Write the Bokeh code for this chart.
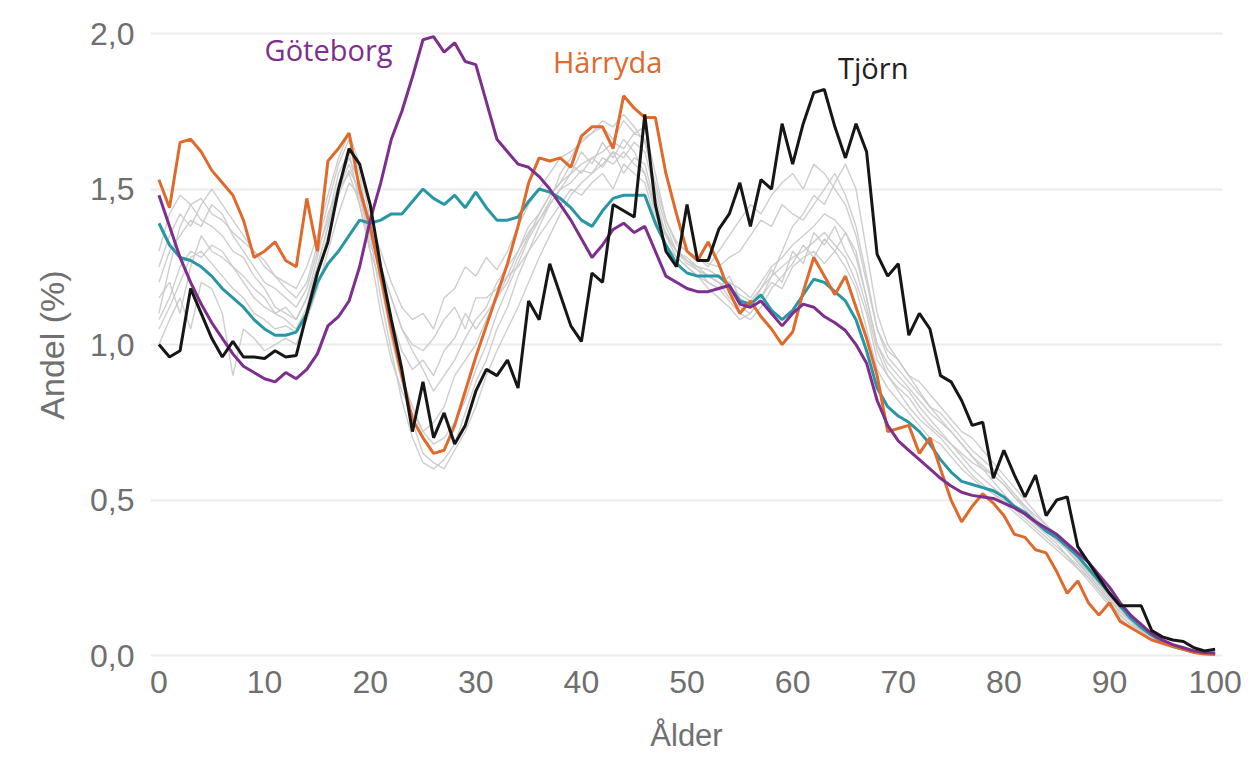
from bokeh.plotting import figure
from bokeh.models import Range1d, FixedTicker, CustomJSTickFormatter, Label
from bokeh.embed import file_html
from bokeh.resources import INLINE

ages = list(range(0, 101))

goteborg = [1.48, 1.38, 1.28, 1.20, 1.13, 1.07, 1.02, 0.97, 0.93, 0.91,
            0.89, 0.88, 0.91, 0.89, 0.92, 0.97, 1.06, 1.09, 1.14, 1.25,
            1.40, 1.52, 1.66, 1.75, 1.86, 1.98, 1.99, 1.94, 1.97, 1.91,
            1.90, 1.78, 1.66, 1.62, 1.58, 1.57, 1.54, 1.50, 1.45, 1.40,
            1.34, 1.28, 1.32, 1.37, 1.39, 1.36, 1.38, 1.30, 1.22, 1.20,
            1.18, 1.17, 1.17, 1.18, 1.19, 1.13, 1.12, 1.14, 1.10, 1.06,
            1.10, 1.13, 1.12, 1.09, 1.07, 1.045, 1.00, 0.94, 0.82, 0.74,
            0.69, 0.66, 0.63, 0.60, 0.57, 0.545, 0.525, 0.515, 0.51, 0.505,
            0.49, 0.475, 0.455, 0.43, 0.41, 0.39, 0.36, 0.33, 0.30, 0.26,
            0.22, 0.17, 0.13, 0.10, 0.07, 0.05, 0.035, 0.025, 0.015, 0.01,
            0.008]

harryda = [1.53, 1.44, 1.65, 1.66, 1.62, 1.56, 1.52, 1.48, 1.40, 1.28,
           1.30, 1.33, 1.27, 1.25, 1.47, 1.30, 1.59, 1.63, 1.68, 1.50,
           1.38, 1.22, 1.05, 0.90, 0.76, 0.70, 0.65, 0.66, 0.74, 0.85,
           0.96, 1.06, 1.16, 1.26, 1.38, 1.52, 1.60, 1.59, 1.60, 1.57,
           1.67, 1.70, 1.70, 1.63, 1.80, 1.76, 1.73, 1.73, 1.55, 1.42,
           1.30, 1.27, 1.33, 1.26, 1.17, 1.10, 1.14, 1.09, 1.05, 1.00,
           1.04, 1.17, 1.28, 1.22, 1.16, 1.22, 1.12, 1.02, 0.90, 0.72,
           0.73, 0.74, 0.65, 0.70, 0.60, 0.50, 0.43, 0.48, 0.52, 0.49,
           0.45, 0.39, 0.38, 0.34, 0.33, 0.27, 0.20, 0.24, 0.17, 0.13,
           0.17, 0.11, 0.09, 0.07, 0.05, 0.04, 0.03, 0.02, 0.01, 0.005,
           0.003]

tjorn = [1.00, 0.96, 0.98, 1.18, 1.10, 1.02, 0.96, 1.01, 0.96, 0.96,
         0.955, 0.98, 0.96, 0.965, 1.10, 1.23, 1.33, 1.50, 1.63, 1.58,
         1.45, 1.25, 1.08, 0.92, 0.72, 0.88, 0.70, 0.78, 0.68, 0.74,
         0.85, 0.92, 0.90, 0.95, 0.86, 1.14, 1.08, 1.26, 1.16, 1.06,
         1.01, 1.23, 1.20, 1.45, 1.43, 1.41, 1.74, 1.45, 1.30, 1.25,
         1.45, 1.27, 1.27, 1.37, 1.42, 1.52, 1.38, 1.53, 1.50, 1.71,
         1.58, 1.71, 1.81, 1.82, 1.70, 1.60, 1.71, 1.62, 1.29, 1.22,
         1.26, 1.03, 1.10, 1.05, 0.90, 0.88, 0.82, 0.74, 0.75, 0.57,
         0.66, 0.58, 0.51, 0.58, 0.45, 0.50, 0.51, 0.35, 0.30, 0.25,
         0.20, 0.16, 0.16, 0.16, 0.08, 0.06, 0.05, 0.045, 0.025, 0.015,
         0.02]

region = [1.39, 1.32, 1.28, 1.27, 1.25, 1.22, 1.18, 1.15, 1.12, 1.08,
          1.05, 1.03, 1.03, 1.04, 1.10, 1.20, 1.26, 1.30, 1.35, 1.40,
          1.39, 1.40, 1.42, 1.42, 1.46, 1.50, 1.47, 1.45, 1.48, 1.44,
          1.49, 1.44, 1.40, 1.40, 1.41, 1.46, 1.50, 1.49, 1.47, 1.44,
          1.40, 1.38, 1.43, 1.47, 1.48, 1.48, 1.48, 1.39, 1.32, 1.26,
          1.23, 1.22, 1.22, 1.22, 1.19, 1.14, 1.13, 1.16, 1.11, 1.08,
          1.11, 1.16, 1.21, 1.20, 1.17, 1.14, 1.08, 0.98, 0.86, 0.80,
          0.77, 0.75, 0.72, 0.68, 0.63, 0.59, 0.56, 0.55, 0.54, 0.53,
          0.51, 0.48, 0.46, 0.43, 0.40, 0.38, 0.35, 0.32, 0.28, 0.24,
          0.20, 0.16, 0.12, 0.09, 0.065, 0.045, 0.03, 0.02, 0.012, 0.008,
          0.005]

gray_1 = [1.10, 1.25, 1.38, 1.45, 1.47, 1.42, 1.40, 1.36, 1.33, 1.30, 1.27,
          1.22, 1.18, 1.15, 1.20, 1.32, 1.45, 1.58, 1.66, 1.55, 1.35,
          1.15, 0.98, 0.82, 0.70, 0.62, 0.60, 0.63, 0.68, 0.78, 0.88,
          0.95, 1.05, 1.12, 1.22, 1.30, 1.38, 1.45, 1.50, 1.55, 1.58,
          1.60, 1.62, 1.65, 1.63, 1.68, 1.66, 1.50, 1.38, 1.30, 1.27,
          1.25, 1.24, 1.22, 1.20, 1.18, 1.15, 1.20, 1.25, 1.28, 1.32,
          1.35, 1.38, 1.42, 1.40, 1.36, 1.30, 1.15, 1.00, 0.92, 0.88,
          0.85, 0.80, 0.76, 0.72, 0.68, 0.65, 0.62, 0.60, 0.56, 0.52,
          0.48, 0.45, 0.42, 0.40, 0.37, 0.34, 0.30, 0.27, 0.23, 0.19,
          0.15, 0.12, 0.09, 0.07, 0.05, 0.035, 0.025, 0.015, 0.01, 0.005]

gray_2 = [1.05, 1.12, 1.20, 1.28, 1.30, 1.26, 1.22, 1.18, 1.15, 1.10, 1.08,
          1.05, 1.06, 1.04, 1.10, 1.22, 1.35, 1.48, 1.56, 1.50, 1.40,
          1.30, 1.20, 1.12, 1.08, 1.10, 1.05, 1.15, 1.18, 1.25, 1.22,
          1.28, 1.24, 1.30, 1.38, 1.45, 1.50, 1.55, 1.60, 1.62, 1.65,
          1.68, 1.70, 1.66, 1.72, 1.68, 1.70, 1.55, 1.40, 1.32, 1.30,
          1.28, 1.25, 1.30, 1.35, 1.40, 1.45, 1.42, 1.48, 1.52, 1.55,
          1.50, 1.58, 1.55, 1.50, 1.45, 1.35, 1.20, 1.05, 0.98, 0.95,
          0.90, 0.88, 0.84, 0.80, 0.76, 0.72, 0.70, 0.66, 0.62, 0.58,
          0.54, 0.50, 0.46, 0.42, 0.38, 0.34, 0.30, 0.26, 0.22, 0.18,
          0.14, 0.11, 0.08, 0.06, 0.04, 0.03, 0.02, 0.012, 0.008, 0.004]

gray_3 = [1.20, 1.30, 1.35, 1.40, 1.38, 1.45, 1.42, 1.35, 1.30, 1.25, 1.20,
          1.18, 1.15, 1.12, 1.18, 1.30, 1.40, 1.55, 1.62, 1.45, 1.30,
          1.10, 0.95, 0.85, 0.78, 0.72, 0.75, 0.80, 0.90, 0.95, 1.00,
          1.08, 1.15, 1.20, 1.28, 1.35, 1.42, 1.48, 1.52, 1.55, 1.62,
          1.58, 1.65, 1.60, 1.66, 1.62, 1.55, 1.42, 1.32, 1.28, 1.25,
          1.22, 1.20, 1.18, 1.22, 1.15, 1.12, 1.18, 1.22, 1.25, 1.28,
          1.30, 1.33, 1.36, 1.32, 1.28, 1.20, 1.10, 0.95, 0.90, 0.85,
          0.80, 0.76, 0.73, 0.70, 0.66, 0.62, 0.58, 0.55, 0.52, 0.50,
          0.47, 0.44, 0.41, 0.38, 0.35, 0.32, 0.29, 0.25, 0.21, 0.17,
          0.13, 0.10, 0.08, 0.06, 0.04, 0.03, 0.02, 0.012, 0.008, 0.02]

gray_4 = [1.30, 1.42, 1.48, 1.45, 1.40, 1.38, 1.35, 1.30, 1.28, 1.22, 1.18,
          1.12, 1.10, 1.08, 1.15, 1.28, 1.42, 1.50, 1.58, 1.48, 1.32,
          1.25, 1.15, 1.05, 1.00, 0.98, 1.02, 1.08, 1.12, 1.05, 1.15,
          1.15, 1.18, 1.22, 1.25, 1.30, 1.35, 1.40, 1.45, 1.50, 1.48,
          1.52, 1.55, 1.50, 1.58, 1.55, 1.52, 1.40, 1.35, 1.30, 1.28,
          1.25, 1.22, 1.20, 1.15, 1.12, 1.10, 1.15, 1.20, 1.18, 1.25,
          1.28, 1.30, 1.26, 1.30, 1.25, 1.18, 1.05, 0.92, 0.86, 0.82,
          0.78, 0.74, 0.70, 0.68, 0.64, 0.60, 0.57, 0.54, 0.52, 0.49,
          0.46, 0.43, 0.40, 0.37, 0.34, 0.31, 0.28, 0.24, 0.20, 0.16,
          0.12, 0.09, 0.07, 0.05, 0.035, 0.025, 0.018, 0.01, 0.006, 0.003]

gray_5 = [1.15, 1.20, 1.10, 1.25, 1.35, 1.30, 1.28, 1.25, 1.20, 1.15, 1.12,
          1.10, 1.08, 1.05, 1.12, 1.25, 1.38, 1.52, 1.60, 1.52, 1.38,
          1.20, 1.02, 0.88, 0.75, 0.65, 0.62, 0.60, 0.66, 0.72, 0.80,
          0.90, 0.98, 1.05, 1.12, 1.20, 1.28, 1.35, 1.42, 1.48, 1.52,
          1.55, 1.58, 1.62, 1.60, 1.65, 1.62, 1.48, 1.35, 1.28, 1.25,
          1.22, 1.18, 1.15, 1.12, 1.08, 1.10, 1.15, 1.22, 1.30, 1.38,
          1.42, 1.48, 1.45, 1.52, 1.58, 1.50, 1.30, 1.10, 1.00, 0.95,
          0.90, 0.85, 0.80, 0.78, 0.74, 0.70, 0.66, 0.63, 0.60, 0.56,
          0.52, 0.48, 0.44, 0.41, 0.38, 0.35, 0.31, 0.27, 0.23, 0.19,
          0.15, 0.12, 0.09, 0.07, 0.05, 0.035, 0.025, 0.015, 0.01, 0.005]

gray_6 = [1.00, 1.08, 1.15, 1.05, 1.20, 1.18, 1.10, 0.90, 1.05, 1.02, 0.98,
          1.00, 1.02, 1.00, 1.08, 1.18, 1.30, 1.42, 1.52, 1.48, 1.35,
          1.25, 1.15, 1.05, 0.98, 0.92, 0.85, 0.90, 0.95, 1.02, 1.08,
          1.12, 1.20, 1.25, 1.30, 1.38, 1.42, 1.48, 1.52, 1.58, 1.55,
          1.60, 1.57, 1.62, 1.55, 1.60, 1.58, 1.45, 1.35, 1.30, 1.26,
          1.24, 1.20, 1.18, 1.14, 1.10, 1.08, 1.12, 1.18, 1.22, 1.26,
          1.32, 1.28, 1.34, 1.30, 1.36, 1.28, 1.15, 1.00, 0.94, 0.90,
          0.86, 0.82, 0.78, 0.75, 0.72, 0.68, 0.64, 0.60, 0.58, 0.55,
          0.51, 0.47, 0.43, 0.40, 0.37, 0.34, 0.30, 0.26, 0.22, 0.18,
          0.14, 0.11, 0.08, 0.06, 0.045, 0.03, 0.02, 0.012, 0.007, 0.004]

gray_7 = [1.25, 1.35, 1.42, 1.38, 1.45, 1.50, 1.45, 1.40, 1.35, 1.30, 1.25,
          1.22, 1.20, 1.18, 1.25, 1.35, 1.48, 1.60, 1.68, 1.58, 1.40,
          1.22, 1.05, 0.90, 0.80, 0.72, 0.68, 0.70, 0.75, 0.82, 0.92,
          1.00, 1.10, 1.18, 1.26, 1.34, 1.40, 1.46, 1.55, 1.60, 1.66,
          1.68, 1.72, 1.70, 1.74, 1.70, 1.65, 1.52, 1.40, 1.33, 1.30,
          1.28, 1.26, 1.25, 1.28, 1.30, 1.35, 1.40, 1.38, 1.45, 1.42,
          1.40, 1.45, 1.50, 1.55, 1.48, 1.38, 1.22, 1.05, 0.96, 0.92,
          0.88, 0.84, 0.80, 0.76, 0.72, 0.68, 0.64, 0.61, 0.58, 0.55,
          0.51, 0.48, 0.45, 0.42, 0.39, 0.35, 0.31, 0.27, 0.23, 0.19,
          0.15, 0.11, 0.08, 0.06, 0.04, 0.03, 0.02, 0.01, 0.006, 0.003]

gray_8 = [1.08, 1.15, 1.25, 1.30, 1.28, 1.32, 1.30, 1.25, 1.22, 1.18, 1.15,
          1.10, 1.12, 1.08, 1.15, 1.25, 1.38, 1.50, 1.55, 1.45, 1.30,
          1.20, 1.08, 0.98, 0.92, 0.95, 0.90, 0.98, 1.02, 1.10, 1.05,
          1.10, 1.15, 1.22, 1.30, 1.36, 1.40, 1.45, 1.50, 1.52, 1.56,
          1.55, 1.60, 1.58, 1.62, 1.58, 1.55, 1.44, 1.36, 1.30, 1.27,
          1.24, 1.22, 1.20, 1.18, 1.16, 1.14, 1.18, 1.24, 1.20, 1.30,
          1.26, 1.36, 1.32, 1.38, 1.30, 1.24, 1.12, 0.98, 0.90, 0.86,
          0.83, 0.78, 0.74, 0.71, 0.68, 0.64, 0.60, 0.57, 0.54, 0.51,
          0.48, 0.45, 0.42, 0.39, 0.36, 0.32, 0.28, 0.25, 0.21, 0.17,
          0.13, 0.10, 0.08, 0.06, 0.04, 0.03, 0.02, 0.012, 0.008, 0.004]

gray_series = [gray_1, gray_2, gray_3, gray_4, gray_5, gray_6, gray_7, gray_8]

y_ticks = [0.0, 0.5, 1.0, 1.5, 2.0]
x_ticks = [0, 10, 20, 30, 40, 50, 60, 70, 80, 90, 100]

C_GBG = "#7e2f8e"
C_HAR = "#e06a2c"
C_TJO = "#161616"
C_REG = "#2796a5"
C_GRAY = "#c9c9c9"

p = figure(width=1242, height=755, output_backend="svg", toolbar_location=None,
           x_range=Range1d(-0.8, 100.7), y_range=Range1d(-0.032, 2.029),
           min_border_left=150, min_border_right=20, min_border_top=24,
           min_border_bottom=90)
p.outline_line_color = None
p.background_fill_color = "white"
p.border_fill_color = "white"

p.xgrid.grid_line_color = None
p.ygrid.grid_line_color = "#ececec"
p.ygrid.grid_line_width = 2
p.yaxis.ticker = FixedTicker(ticks=y_ticks)
p.xaxis.ticker = FixedTicker(ticks=x_ticks)
p.yaxis.formatter = CustomJSTickFormatter(code="return tick.toFixed(1).replace('.', ',');")

for ax in (p.xaxis[0], p.yaxis[0]):
    ax.axis_line_color = None
    ax.major_tick_line_color = None
    ax.minor_tick_line_color = None
    ax.major_tick_out = 0
    ax.major_tick_in = 0
    ax.major_label_text_font = "Liberation Sans"
    ax.major_label_text_font_size = "32px"
    ax.major_label_text_color = "#6f6f6f"
    ax.axis_label_text_font = "Liberation Sans"
    ax.axis_label_text_font_size = "31px"
    ax.axis_label_text_font_style = "normal"
    ax.axis_label_text_color = "#707070"

p.xaxis.axis_label = "Ålder"
p.yaxis.axis_label = "Andel (%)"
p.yaxis.axis_label_text_font_size = "34px"
p.xaxis.major_label_standoff = 5
p.yaxis.major_label_standoff = 16
p.xaxis.axis_label_standoff = 22
p.yaxis.axis_label_standoff = 16

for g in gray_series:
    p.line(ages, g, line_color=C_GRAY, line_width=1.4, line_alpha=0.9)

p.line(ages, region, line_color=C_REG, line_width=3)
p.line(ages, harryda, line_color=C_HAR, line_width=3)
p.line(ages, goteborg, line_color=C_GBG, line_width=3)
p.line(ages, tjorn, line_color=C_TJO, line_width=3)

for txt, x, y, col in [("Göteborg", 10.0, 1.95, C_GBG),
                       ("Härryda", 37.3, 1.91, C_HAR),
                       ("Tjörn", 64.3, 1.89, "#202020")]:
    p.add_layout(Label(x=x, y=y, text=txt, text_color=col, text_font="Open Sans",
                       text_font_size="29px", text_baseline="middle", text_align="left"))

open("out.html", "w").write(file_html(p, INLINE))
